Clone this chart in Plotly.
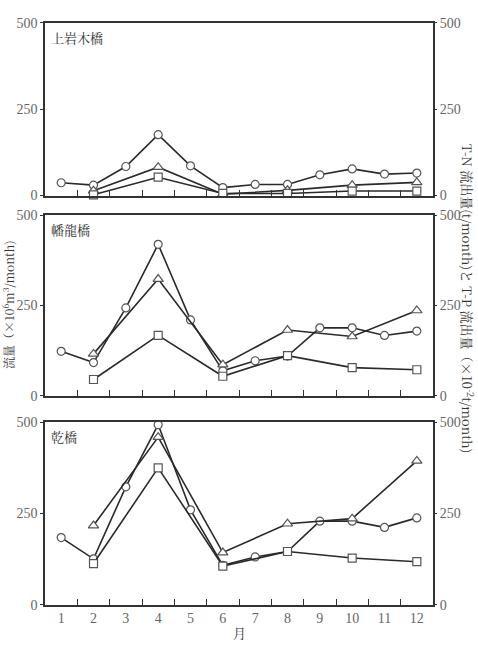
import plotly.graph_objects as go

months = list(range(1, 13))
even_months = [2, 4, 6, 8, 10, 12]

# 上岩木橋
s1_flow = [37, 30, 84, 176, 86, 23, 32, 32, 60, 77, 62, 65]
s1_tn = [14, 82, 4, 15, 30, 38]
s1_tp = [2, 53, 6, 6, 13, 13]
# 幡龍橋
s2_flow = [123, 92, 243, 419, 210, 69, 97, 110, 188, 188, 167, 179]
s2_tn = [116, 323, 86, 182, 164, 236]
s2_tp = [45, 167, 54, 111, 78, 72]
# 乾橋
s3_flow = [184, 126, 323, 493, 260, 108, 131, 146, 229, 229, 212, 238]
s3_tn = [217, 459, 143, 222, 236, 394]
s3_tp = [113, 375, 106, 146, 128, 118]

stations = ["上岩木橋", "幡龍橋", "乾橋"]
y_ticks = [0, 250, 500]
x_tick_labels = [str(m) for m in months]

W, H = 478, 648
x_dom = [45 / W, 433 / W]
panels_px = [(16, 193), (213, 398), (425, 612)]
y_doms = [[1 - b / H, 1 - t / H] for t, b in panels_px]

line_col = "#2a2a2a"
mk_col = "#555555"
tick_font = dict(family="Liberation Serif, DejaVu Serif, serif", size=14, color="#666666")
cjk = "Noto Serif CJK JP, Noto Sans CJK JP, serif"

fig = go.Figure()
data = [(s1_flow, s1_tn, s1_tp), (s2_flow, s2_tn, s2_tp), (s3_flow, s3_tn, s3_tp)]
for i, (fl, tn, tp) in enumerate(data):
    xa = "x" if i == 0 else f"x{i+1}"
    ya = "y" if i == 0 else f"y{i+1}"
    common = dict(xaxis=xa, yaxis=ya, mode="lines+markers", showlegend=False,
                  line=dict(color=line_col, width=1.6), cliponaxis=False)
    fig.add_trace(go.Scatter(x=months, y=fl, marker=dict(symbol="circle", size=8, color="white",
                                                          line=dict(color=mk_col, width=1.2)), **common))
    fig.add_trace(go.Scatter(x=even_months, y=tn, marker=dict(symbol="triangle-up", size=9, color="white",
                                                               line=dict(color=mk_col, width=1.2)), **common))
    fig.add_trace(go.Scatter(x=even_months, y=tp, marker=dict(symbol="square", size=8, color="white",
                                                               line=dict(color=mk_col, width=1.2)), **common))
    # right-side axis carrier (same values, invisible)
    fig.add_trace(go.Scatter(x=even_months, y=tp, xaxis=xa, yaxis=f"y{i+4}", mode="markers",
                             marker=dict(opacity=0), showlegend=False, hoverinfo="skip"))

layout = dict(width=W, height=H, margin=dict(l=0, r=0, t=0, b=0),
              paper_bgcolor="white", plot_bgcolor="white")
for i in range(3):
    xk = "xaxis" if i == 0 else f"xaxis{i+1}"
    yk = "yaxis" if i == 0 else f"yaxis{i+1}"
    anchor_y = "y" if i == 0 else f"y{i+1}"
    layout[xk] = dict(domain=x_dom, anchor=anchor_y, range=[0.5, 12.5],
                      tickmode="array", tickvals=months, ticktext=x_tick_labels,
                      showticklabels=(i == 2), ticks="", showgrid=False, zeroline=False,
                      showline=True, linecolor="#333333", linewidth=1.5, mirror=True,
                      tickfont=tick_font, minor=dict(tickmode="array", tickvals=[m + 0.5 for m in months[:-1]],
                                                     ticks="inside", ticklen=6, tickcolor="#333333", tickwidth=1.2))
    if i != 0:
        layout[xk]["matches"] = "x"
    layout[yk] = dict(domain=y_doms[i], anchor="x" if i == 0 else f"x{i+1}", range=[0, 500],
                      tickvals=y_ticks, ticks="outside", ticklen=3, tickcolor="#333333",
                      showgrid=False, zeroline=False, showline=True, linecolor="#333333",
                      linewidth=1.5, mirror=True, tickfont=tick_font)
    layout[f"yaxis{i+4}"] = dict(domain=y_doms[i], anchor="x" if i == 0 else f"x{i+1}",
                                 overlaying="y" if i == 0 else f"y{i+1}", side="right",
                                 range=[0, 500], tickvals=y_ticks, ticks="outside", ticklen=3,
                                 tickcolor="#333333", showgrid=False, zeroline=False,
                                 showline=False, tickfont=tick_font)
fig.update_layout(**layout)

for i, name in enumerate(stations):
    fig.add_annotation(text=name, xref="paper", yref="paper", x=x_dom[0] + 4 / W, y=y_doms[i][1] - 3 / H,
                       xanchor="left", yanchor="top", showarrow=False,
                       font=dict(family=cjk, size=13, color="#333333"))

fig.add_annotation(text="月", xref="paper", yref="paper", x=(x_dom[0] + x_dom[1]) / 2, y=1 - 640 / H,
                   xanchor="center", yanchor="middle", showarrow=False,
                   font=dict(family=cjk, size=13, color="#333333"))
fig.add_annotation(text="流量（×10<sup>6</sup>m<sup>3</sup>/month)", xref="paper", yref="paper",
                   x=8 / W, y=1 - 305 / H, xanchor="center", yanchor="middle", textangle=-90,
                   showarrow=False, font=dict(family=cjk, size=12, color="#333333"))
fig.add_annotation(text="T-N 流出量(t/month)と T-P 流出量（×10<sup>-2</sup>t/month)", xref="paper", yref="paper",
                   x=468 / W, y=1 - 298 / H, xanchor="center", yanchor="middle", textangle=90,
                   showarrow=False, font=dict(family=cjk, size=13, color="#333333"))

fig.write_html("out.html")
